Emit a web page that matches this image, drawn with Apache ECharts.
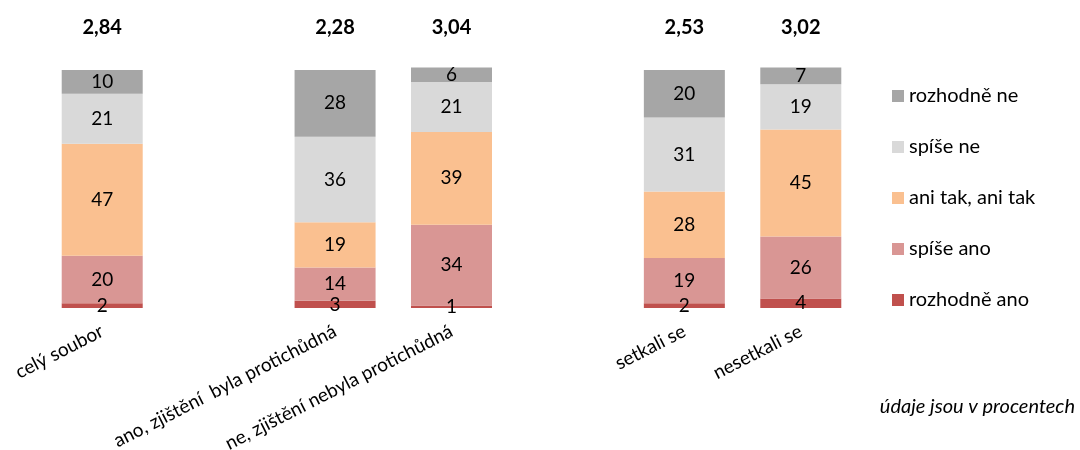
<!DOCTYPE html>
<html><head><meta charset="utf-8">
<script src="https://cdn.jsdelivr.net/npm/echarts@6/dist/echarts.min.js"></script>
<style>html,body{margin:0;padding:0;background:#fff}#c{width:1080px;height:450px}</style>
</head><body><div id="c"></div>
<script>
var categories = ['celý soubor', '', 'ano, zjištění  byla protichůdná', 'ne, zjištění nebyla protichůdná', '', 'setkali se', 'nesetkali se'];
var means = ['2,84', null, '2,28', '3,04', null, '2,53', '3,02'];
var rozhodneAno = [2, null, 3, 1, null, 2, 4];
var spiseAno = [20, null, 14, 34, null, 19, 26];
var aniTak = [47, null, 19, 39, null, 28, 45];
var spiseNe = [21, null, 36, 21, null, 31, 19];
var rozhodneNe = [10, null, 28, 6, null, 20, 7];
var seriesNames = ['rozhodně ano', 'spíše ano', 'ani tak, ani tak', 'spíše ne', 'rozhodně ne'];
var colors = ['#c0504d', '#d99694', '#fac090', '#d9d9d9', '#a6a6a6'];
var values = [rozhodneAno, spiseAno, aniTak, spiseNe, rozhodneNe];
var FONT = 'Lato';

var series = values.map(function (v, i) {
  return {
    name: seriesNames[i], type: 'bar', stack: 'a', data: v, barWidth: 81, clip: false,
    itemStyle: { color: colors[i] },
    label: { show: true, position: 'inside', color: '#000', fontFamily: FONT, fontSize: 19,
      formatter: function (p) { return p.value == null ? '' : p.value; } }
  };
});
series.push({
  name: 'prumer', type: 'bar', barWidth: 81, barGap: '-100%', clip: false, silent: true,
  data: means.map(function (m) { return m == null ? null : 100; }),
  itemStyle: { color: 'transparent' },
  label: { show: true, position: 'top', distance: 32, color: '#000', fontFamily: FONT,
    fontSize: 20, fontWeight: 'bold',
    formatter: function (p) { return means[p.dataIndex] || ''; } }
});

var chart = echarts.init(document.getElementById('c'));
chart.setOption({
  animation: false,
  textStyle: { fontFamily: FONT },
  grid: { left: 44, right: 221, top: 70, bottom: 142, containLabel: false, outerBoundsMode: 'none' },
  xAxis: { type: 'category', data: categories, axisLine: { show: false }, axisTick: { show: false },
    axisLabel: { rotate: 27, interval: 0, margin: 22, color: '#000', fontFamily: FONT, fontSize: 19 } },
  yAxis: { type: 'value', min: 0, max: 100, show: false, splitLine: { show: false } },
  legend: { orient: 'vertical', left: 892, top: 86, padding: 0, itemWidth: 12, itemHeight: 12, itemGap: 31,
    icon: 'rect', data: seriesNames.slice().reverse(),
    textStyle: { color: '#000', fontFamily: FONT, fontSize: 20, lineHeight: 20 } },
  title: { text: 'údaje jsou v procentech', right: 5, top: 397, padding: 0,
    textStyle: { color: '#000', fontFamily: FONT, fontSize: 20, fontStyle: 'italic', fontWeight: 'normal' } },
  series: series
});
</script></body></html>
